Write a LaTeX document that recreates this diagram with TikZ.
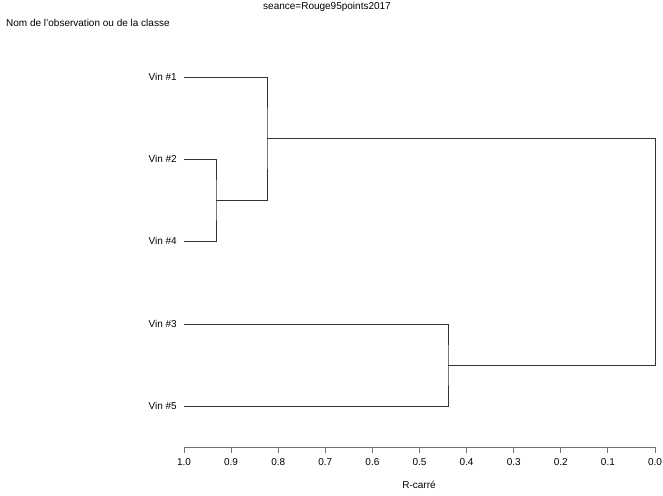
\documentclass[tikz,border=0pt]{standalone}
\usepackage{fontspec}
\setmainfont{Liberation Sans}
\begin{document}
\begin{tikzpicture}[x=1pt,y=-1pt,
  lab/.style={font=\fontsize{10}{12}\selectfont, inner sep=0pt},
  leaf/.style={lab, anchor=east},
  branch/.style={draw=black!80, line width=0.9pt},
  axisline/.style={draw=black!55, line width=0.9pt}]
\useasboundingbox[fill=white] (0,0) rectangle (663,495);
% titles
\node[lab] (title) at (327,7) {seance=Rouge95points2017};
\node[lab, anchor=west] (ylab) at (6,23) {Nom de l'observation ou de la classe};
% leaves
\node[leaf] (v1) at (177,77) {Vin \#1};
\node[leaf] (v2) at (177,159) {Vin \#2};
\node[leaf] (v4) at (177,241) {Vin \#4};
\node[leaf] (v3) at (177,324) {Vin \#3};
\node[leaf] (v5) at (177,406) {Vin \#5};
% leaf starts
\coordinate (s1) at (184,77);
\coordinate (s2) at (184,159);
\coordinate (s4) at (184,241);
\coordinate (s3) at (184,324);
\coordinate (s5) at (184,406);
% merges
\coordinate (m24) at (216,200);
\coordinate (m124) at (267,138.5);
\coordinate (m35) at (448,365);
\coordinate (root) at (655,251.75);
\draw[branch] (s2) -| (m24) |- (s4);
\draw[branch] (s1) -| (m124) |- (m24);
\draw[branch] (s3) -| (m35) |- (s5);
\draw[branch] (m124) -| (root) |- (m35);
% axis
\coordinate (a0) at (184,447);
\coordinate (a1) at (655,447);
\draw[axisline] (a0) -- (a1);
\foreach \i/\t in {0/0.0,1/0.1,2/0.2,3/0.3,4/0.4,5/0.5,6/0.6,7/0.7,8/0.8,9/0.9,10/1.0}{
  \draw[axisline] ({655-47.1*\i},447) -- ({655-47.1*\i},453);
  \node[lab] (t\i) at ({655-47.1*\i},462) {\t};
}
\node[lab] (xlab) at (419,485) {R-carré};
\end{tikzpicture}
\end{document}
